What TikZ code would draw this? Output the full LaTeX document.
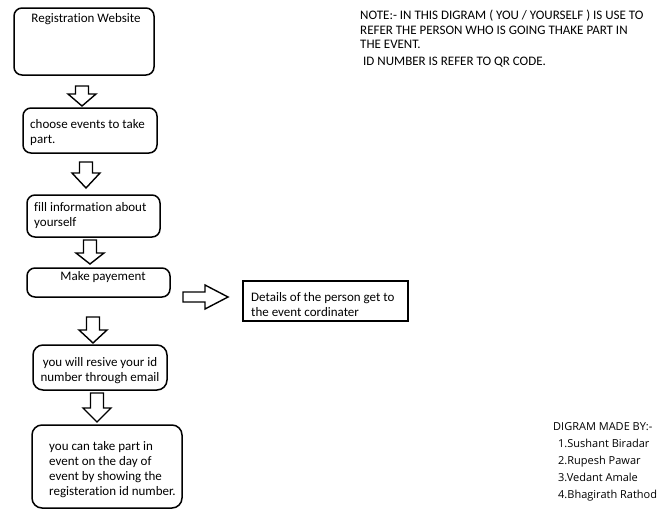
\documentclass[tikz,border=0pt]{standalone}
\usepackage{fontspec}
\setmainfont{Carlito}[Ligatures=NoCommon]
\newfontfamily\creditfont{Open Sans}
\begin{document}
\begin{tikzpicture}[x=1pt,y=-1pt,
  rbox/.style={draw,line width=1.5pt,rounded corners=8pt},
  sbox/.style={draw,line width=1.5pt},
  arr/.style={draw,line width=1.4pt,fill=white,line join=miter},
  txt/.style={inner sep=0pt,font=\fontsize{13}{15.5}\selectfont},
  note/.style={inner sep=0pt,font=\fontsize{13}{14.5}\selectfont,align=left,anchor=north west},
  credit/.style={inner sep=0pt,font=\creditfont\fontsize{11}{17.2}\selectfont,align=left,anchor=north west}]
\useasboundingbox (0,0) rectangle (662,509);
\newcommand\hdown[4]{%
  \draw[arr] (#1-6.5,#2) -- (#1+6.5,#2) -- (#1+6.5,#3) -- (#1+14,#3) -- (#1,#4) -- (#1-14,#3) -- (#1-6.5,#3) -- cycle;}
% boxes
\draw[rbox] (14,8) rectangle (154,75);
\node[txt,anchor=north] (t1) at (86,13) {Registration Website};
\draw[rbox] (23,108) rectangle (157,153);
\node[txt,anchor=north west,align=left] (t2) at (30,119) {choose events to take\\part.};
\draw[rbox] (27,195) rectangle (160,237);
\node[txt,anchor=north west,align=left] (t3) at (34,202) {fill information about\\yourself};
\draw[rbox] (27,268) rectangle (170,297);
\node[txt,anchor=north] (t4) at (103,271) {Make payement};
\draw[sbox] (243,281) rectangle (408,321);
\node[txt,anchor=north west,align=left] (t5) at (251,292) {Details of the person get to\\the event cordinater};
\draw[rbox,rounded corners=10pt] (33,345) rectangle (167,390);
\node[txt,anchor=north,align=center] (t6) at (100,357) {you will resive your id\\number through email};
\draw[rbox,rounded corners=10pt] (32,425) rectangle (182,508);
\node[txt,anchor=north west,align=left,font=\fontsize{13}{15}\selectfont] (t7) at (49,441) {you can take part in\\event on the day of\\event by showing the\\registeration id number.};
% arrows
\hdown{82}{86}{94}{106}
\hdown{86}{162}{173}{188}
\hdown{90}{240}{253}{264}
\hdown{93}{317}{330}{343}
\hdown{97}{393}{408}{422}
\draw[arr] (183,292) -- (205,292) -- (205,285) -- (228,297) -- (205,309) -- (205,302) -- (183,302) -- cycle;
% note
\node[note] (n1) at (360,10) {NOTE:- IN THIS DIGRAM ( YOU / YOURSELF ) IS USE TO\\REFER THE PERSON WHO IS GOING THAKE PART IN\\THE EVENT.};
\node[note] (n2) at (363,57) {ID NUMBER IS REFER TO QR CODE.};
% credits
\node[credit] (c1) at (553,422) {DIGRAM MADE BY:-\\
\hspace*{5pt}1.Sushant Biradar\\
\hspace*{5pt}2.Rupesh Pawar\\
\hspace*{5pt}3.Vedant Amale\\
\hspace*{5pt}4.Bhagirath Rathod};
\end{tikzpicture}
\end{document}
